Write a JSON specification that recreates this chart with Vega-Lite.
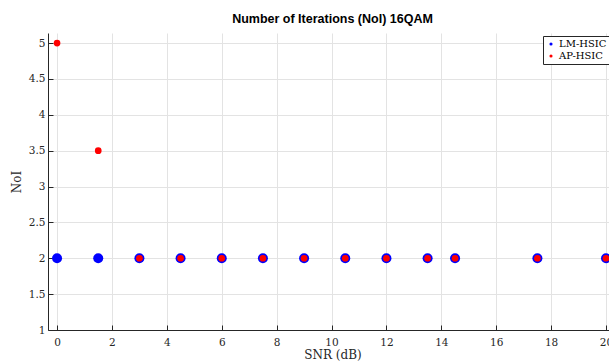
{
  "$schema": "https://vega.github.io/schema/vega-lite/v6.json",
  "width": 569,
  "height": 297,
  "autosize": {"type": "none"},
  "padding": {"left": 48, "top": 33, "right": 0, "bottom": 33},
  "background": "white",
  "title": {"text": "Number of Iterations (NoI) 16QAM", "font": "Liberation Sans", "fontSize": 12.5, "fontWeight": "bold", "color": "#000000", "anchor": "middle", "offset": 8},
  "config": {
    "view": {"stroke": null},
    "axis": {"labelFont": "DejaVu Serif", "titleFont": "DejaVu Serif", "labelFontSize": 10.5, "titleFontSize": 12, "titleFontWeight": "normal", "labelColor": "#262626", "titleColor": "#262626", "domainColor": "#262626", "tickColor": "#262626", "gridColor": "#e3e3e3", "gridWidth": 1, "tickSize": -5, "tickWidth": 1, "domainWidth": 1}
  },
  "data": {"values": [
    {"snr": 0, "noi": 2, "method": "LM-HSIC"},
    {"snr": 1.5, "noi": 2, "method": "LM-HSIC"},
    {"snr": 3, "noi": 2, "method": "LM-HSIC"},
    {"snr": 4.5, "noi": 2, "method": "LM-HSIC"},
    {"snr": 6, "noi": 2, "method": "LM-HSIC"},
    {"snr": 7.5, "noi": 2, "method": "LM-HSIC"},
    {"snr": 9, "noi": 2, "method": "LM-HSIC"},
    {"snr": 10.5, "noi": 2, "method": "LM-HSIC"},
    {"snr": 12, "noi": 2, "method": "LM-HSIC"},
    {"snr": 13.5, "noi": 2, "method": "LM-HSIC"},
    {"snr": 14.5, "noi": 2, "method": "LM-HSIC"},
    {"snr": 17.5, "noi": 2, "method": "LM-HSIC"},
    {"snr": 20, "noi": 2, "method": "LM-HSIC"},
    {"snr": 0, "noi": 5, "method": "AP-HSIC"},
    {"snr": 1.5, "noi": 3.5, "method": "AP-HSIC"},
    {"snr": 3, "noi": 2, "method": "AP-HSIC"},
    {"snr": 4.5, "noi": 2, "method": "AP-HSIC"},
    {"snr": 6, "noi": 2, "method": "AP-HSIC"},
    {"snr": 7.5, "noi": 2, "method": "AP-HSIC"},
    {"snr": 9, "noi": 2, "method": "AP-HSIC"},
    {"snr": 10.5, "noi": 2, "method": "AP-HSIC"},
    {"snr": 12, "noi": 2, "method": "AP-HSIC"},
    {"snr": 13.5, "noi": 2, "method": "AP-HSIC"},
    {"snr": 14.5, "noi": 2, "method": "AP-HSIC"},
    {"snr": 17.5, "noi": 2, "method": "AP-HSIC"},
    {"snr": 20, "noi": 2, "method": "AP-HSIC"}
  ]},
  "encoding": {
    "x": {"field": "snr", "type": "quantitative", "title": "SNR (dB)", "scale": {"domain": [-0.33, 20.4], "nice": false, "zero": false}, "axis": {"values": [0, 2, 4, 6, 8, 10, 12, 14, 16, 18, 20], "format": "~g", "labelPadding": 12, "titlePadding": 2}},
    "y": {"field": "noi", "type": "quantitative", "title": "NoI", "scale": {"domain": [1, 5.14], "nice": false, "zero": false}, "axis": {"values": [1, 1.5, 2, 2.5, 3, 3.5, 4, 4.5, 5], "format": "~g", "labelPadding": 8, "titlePadding": 5}},
    "color": {"field": "method", "type": "nominal", "scale": {"domain": ["LM-HSIC", "AP-HSIC"], "range": ["#0000ff", "#ff0000"]}, "legend": {"title": null, "orient": "none", "legendX": 495, "legendY": 3, "labelFont": "DejaVu Serif", "labelFontSize": 10, "labelColor": "#000000", "symbolSize": 10, "symbolType": "circle", "strokeColor": "#262626", "fillColor": "white", "padding": 3, "rowPadding": 2, "labelOffset": 3, "symbolOffset": 0}}
  },
  "layer": [
    {"transform": [{"filter": "datum.method === 'LM-HSIC'"}], "mark": {"type": "point", "filled": true, "opacity": 1, "shape": "circle", "size": 100}},
    {"transform": [{"filter": "datum.method === 'AP-HSIC'"}], "mark": {"type": "point", "filled": true, "opacity": 1, "shape": "circle", "size": 45}}
  ]
}
